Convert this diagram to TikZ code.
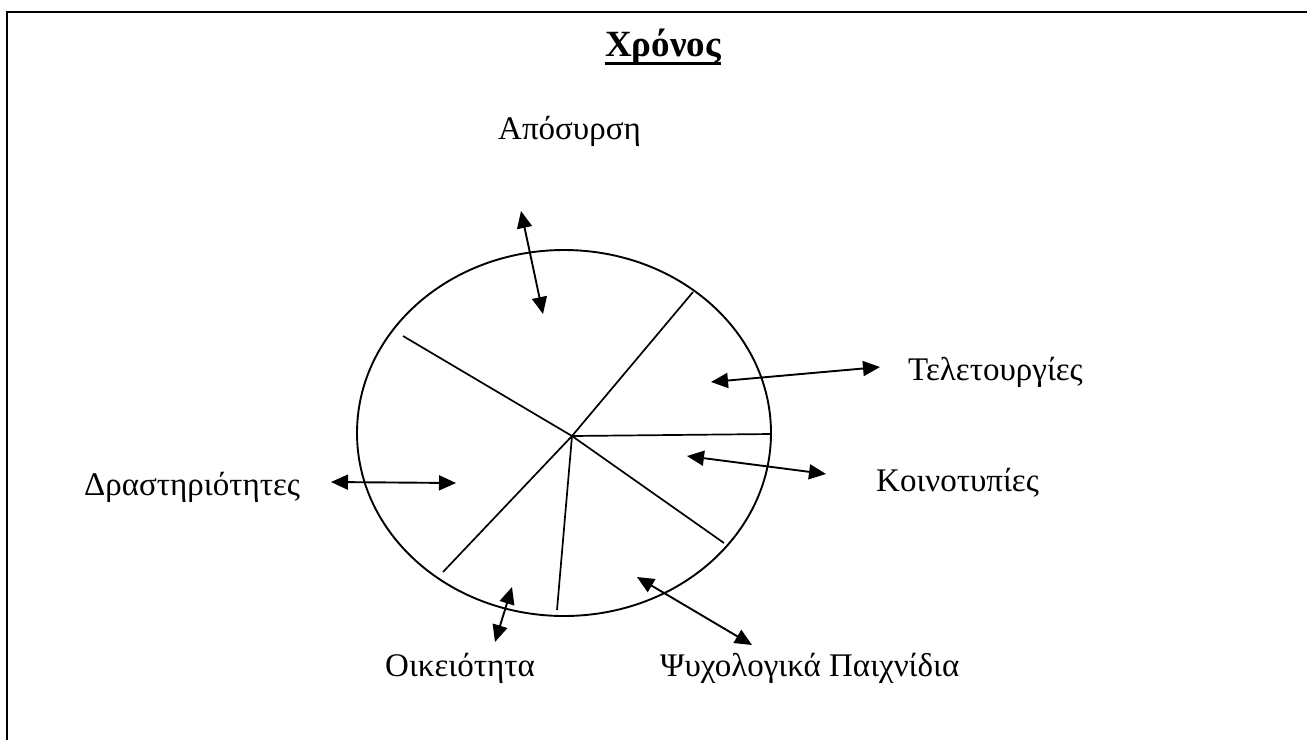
\documentclass[tikz,border=0pt]{standalone}
\usepackage{fontspec}
\setmainfont{Liberation Serif}
\usetikzlibrary{arrows.meta}
\begin{document}
\begin{tikzpicture}[x=1pt,y=-1pt,
  lbl/.style={font=\fontsize{33}{38}\selectfont, inner sep=0pt, anchor=base west},
  dbl/.style={line width=1.9pt, {Triangle[length=17pt,width=15pt]}-{Triangle[length=17pt,width=15pt]}},
  spoke/.style={line width=1.7pt},
  frame/.style={line width=2.6pt}]
\useasboundingbox (0,0) rectangle (1307,740);
% frame (top and left only)
\coordinate (fTL) at (7,12);
\coordinate (fTR) at (1307,12);
\coordinate (fBL) at (7,740);
\draw[frame] (fBL) -- (fTL) -- (fTR);
% title
\node[font=\bfseries\fontsize{37}{42}\selectfont, inner sep=0pt, anchor=base] (title) at (663,56) {Χρόνος};
\draw[line width=3pt] ([yshift=-7pt]title.base west) -- ([yshift=-7pt]title.base east);
% circle
\draw[line width=1.9pt] (564,433) ellipse [x radius=207, y radius=183];
% spokes
\coordinate (c) at (572,436);
\coordinate (s1) at (693,292);
\coordinate (s2) at (771,434);
\coordinate (s3) at (724,543);
\coordinate (s4) at (557,610);
\coordinate (s5) at (443,572);
\coordinate (s6) at (403,336);
\foreach \s in {s1,s2,s3,s4,s5,s6} \draw[spoke] (c) -- (\s);
% labels
\node[lbl] (apo) at (498,139) {Απόσυρση};
\node[lbl] (tel) at (908,380) {Τελετουργίες};
\node[lbl] (koi) at (876,491) {Κοινοτυπίες};
\node[lbl] (dra) at (84,495) {Δραστηριότητες};
\node[lbl] (oik) at (385,676) {Οικειότητα};
\node[lbl] (psy) at (660,676) {Ψυχολογικά Παιχνίδια};
% arrows
\coordinate (a1) at (521,211); \coordinate (a2) at (543,314);
\coordinate (b1) at (711,382); \coordinate (b2) at (880,367);
\coordinate (k1) at (687,456); \coordinate (k2) at (826,474);
\coordinate (d1) at (331,482); \coordinate (d2) at (456,483);
\coordinate (o1) at (512,587); \coordinate (o2) at (495,642);
\coordinate (p1) at (637,577); \coordinate (p2) at (752,645);
\draw[dbl] (a1) -- (a2);
\draw[dbl] (b1) -- (b2);
\draw[dbl] (k1) -- (k2);
\draw[dbl] (d1) -- (d2);
\draw[dbl] (o1) -- (o2);
\draw[dbl] (p1) -- (p2);
\end{tikzpicture}
\end{document}
